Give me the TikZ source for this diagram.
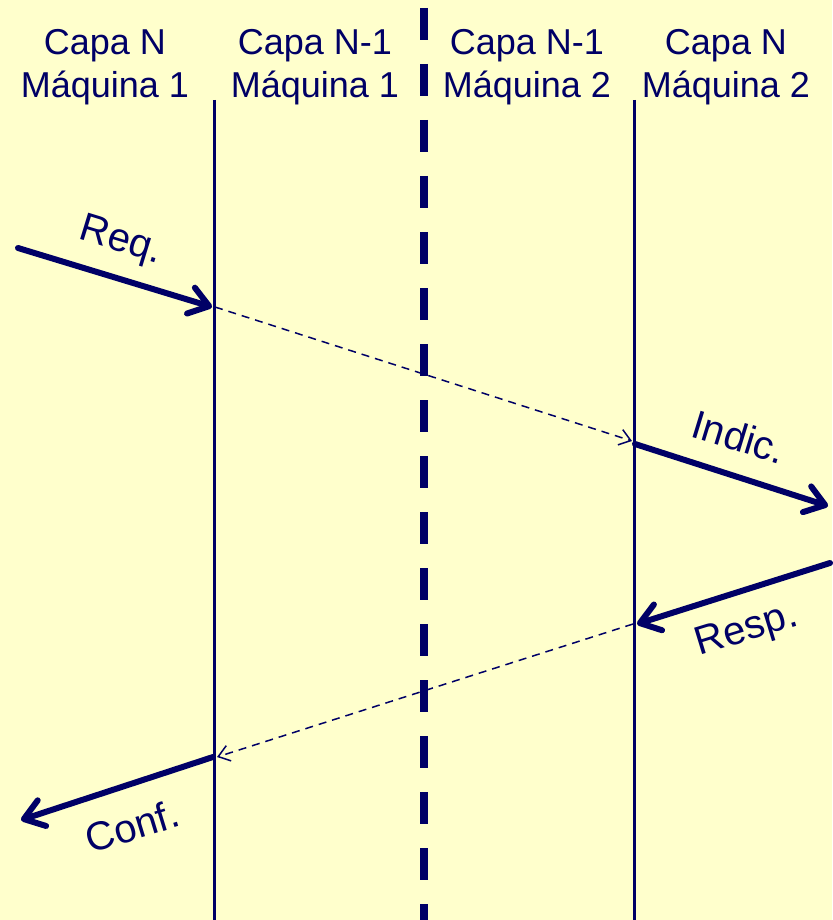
\documentclass[tikz,border=0pt]{standalone}
\usepackage{fontspec}
\setmainfont{Liberation Sans}
\usetikzlibrary{arrows.meta}
\definecolor{bg}{HTML}{FFFFCC}
\definecolor{navy}{HTML}{000066}
\begin{document}
\begin{tikzpicture}[x=1pt,y=1pt,
  hdr/.style={text=navy, font=\fontsize{36}{43}\selectfont, inner sep=0pt, anchor=base},
  lbl/.style={text=navy, font=\fontsize{40}{46}\selectfont, inner sep=0pt},
  life/.style={draw=navy, line width=3pt},
  divider/.style={draw=navy, line width=8pt, dash pattern=on 32pt off 24pt},
  prim/.style={draw=navy, line width=6pt, line cap=round, -{Straight Barb[length=19pt,width=27pt,round]}},
  msg/.style={draw=navy, line width=1.5pt, dash pattern=on 8pt off 6pt, -{Straight Barb[length=11pt,width=16pt]}}
]
\fill[bg] (0,0) rectangle (832,-920);
\useasboundingbox (0,0) rectangle (832,-920);

% headers
\node[hdr] (h1a) at (105,-55) {Capa N};
\node[hdr] (h1b) at (105,-98) {Máquina 1};
\node[hdr] (h2a) at (315,-55) {Capa N-1};
\node[hdr] (h2b) at (315,-98) {Máquina 1};
\node[hdr] (h3a) at (527,-55) {Capa N-1};
\node[hdr] (h3b) at (527,-98) {Máquina 2};
\node[hdr] (h4a) at (726,-55) {Capa N};
\node[hdr] (h4b) at (726,-98) {Máquina 2};

% lifelines
\coordinate (l1t) at (214,-100);
\coordinate (l1b) at (214,-920);
\coordinate (l2t) at (634,-100);
\coordinate (l2b) at (634,-920);
\coordinate (dt) at (424,-8);
\coordinate (db) at (424,-920);
\draw[life] (l1t) -- (l1b);
\draw[life] (l2t) -- (l2b);
\draw[divider] (dt) -- (db);

% message points
\coordinate (reqS) at (18,-248);
\coordinate (reqE) at (212,-307);
\coordinate (m1S) at (215,-307);
\coordinate (m1E) at (632,-441);
\coordinate (indS) at (635,-444);
\coordinate (indE) at (828,-506);
\coordinate (resS) at (830,-563);
\coordinate (resE) at (637,-624);
\coordinate (m2S) at (633,-624);
\coordinate (m2E) at (217,-757);
\coordinate (cnfS) at (213,-757);
\coordinate (cnfE) at (21,-820);

\draw[prim] (reqS) -- (reqE);
\draw[msg] (m1S) -- (m1E);
\draw[prim] (indS) -- (indE);
\draw[prim] (resS) -- (resE);
\draw[msg] (m2S) -- (m2E);
\draw[prim] (cnfS) -- (cnfE);

% labels
\node[lbl, rotate=-17] (req) at (121,-242) {Req.};
\node[lbl, rotate=-17] (ind) at (739,-437) {Indic.};
\node[lbl, rotate=17] (res) at (747,-631) {Resp.};
\node[lbl, rotate=17] (cnf) at (132,-826) {Conf.};
\end{tikzpicture}
\end{document}
